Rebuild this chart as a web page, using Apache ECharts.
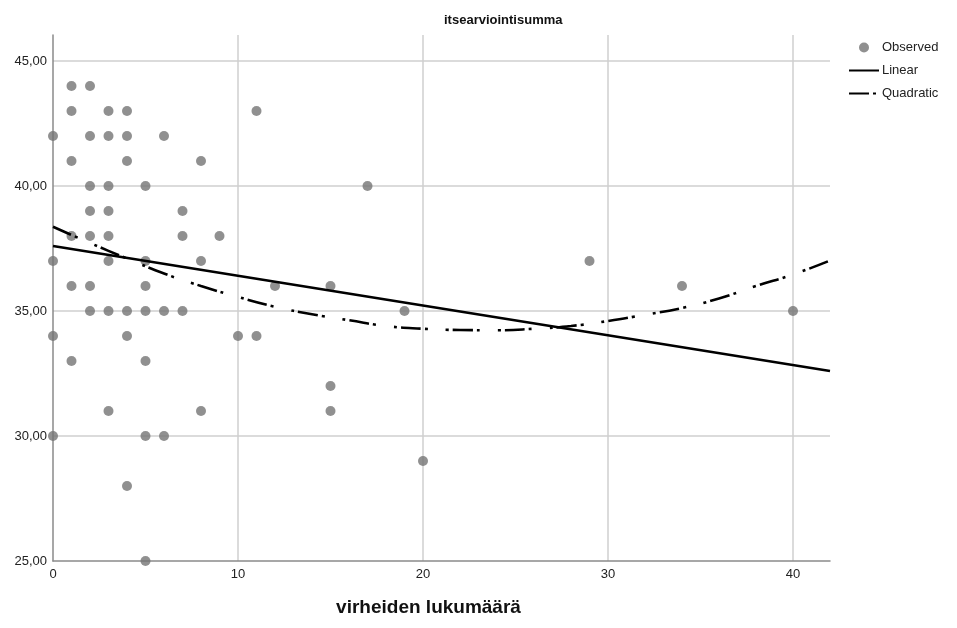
<!DOCTYPE html>
<html>
<head>
<meta charset="utf-8">
<script src="https://cdn.jsdelivr.net/npm/echarts@6/dist/echarts.min.js"></script>
<style>
  html, body { margin: 0; padding: 0; background: #fff; }
  #chart { width: 957px; height: 628px; }
</style>
</head>
<body>
<div id="chart"></div>
<script>
// havainnot: virheiden lukumäärä / itsearviointisumma
var obsErrors = [0,0,0,0, 1,1,1,1,1,1, 2,2,2,2,2,2,2, 3,3,3,3,3,3,3,3,
                 4,4,4,4,4,4, 5,5,5,5,5,5,5, 6,6,6, 7,7,7, 8,8,8, 9, 10, 11,11, 12,
                 15,15,15, 17, 19, 20, 29, 34, 40];
var obsScores = [42,37,34,30, 44,43,41,38,36,33, 44,42,40,39,38,36,35, 43,42,40,39,38,37,35,31,
                 43,42,41,35,34,28, 40,37,36,35,33,30,25, 42,35,30, 39,38,35, 41,37,31, 38, 34, 43,34, 36,
                 36,32,31, 40, 35, 29, 37, 36, 35];

// sovitteet luettu kuvasta
var linX = [0, 42];
var linY = [37.6, 32.6];
var quadX = [0, 2, 4, 6, 8, 10, 12, 14, 16, 18, 20, 22, 24, 26, 28, 30, 32, 34, 36, 38, 40, 42];
var quadY = [38.37, 37.72, 37.1, 36.5, 36.0, 35.56, 35.17, 34.87, 34.63, 34.4, 34.29, 34.24,
             34.23, 34.29, 34.4, 34.6, 34.85, 35.12, 35.5, 36.0, 36.46, 37.02];

var xTicks = [0, 10, 20, 30, 40];
var yTicks = [25, 30, 35, 40, 45];

function zip(a, b) {
  var out = [];
  for (var i = 0; i < a.length; i++) out.push([a[i], b[i]]);
  return out;
}

var font = "'Liberation Sans', Arial, sans-serif";
var myChart = echarts.init(document.getElementById('chart'));

var option = {
  backgroundColor: '#fff',
  animation: false,
  title: {
    text: 'itsearviointisumma',
    left: 439,
    top: 9,
    textStyle: { fontFamily: font, fontSize: 13, fontWeight: 'bold', color: '#111' }
  },
  legend: {
    orient: 'vertical',
    left: 843,
    top: 36,
    itemWidth: 30,
    itemHeight: 10,
    itemGap: 10,
    textStyle: { fontFamily: font, fontSize: 13, color: '#222', padding: [0, 0, 0, -2] },
    data: [
      { name: 'Observed', icon: 'circle' },
      { name: 'Linear', itemStyle: { opacity: 0 } },
      { name: 'Quadratic', itemStyle: { opacity: 0 } }
    ]
  },
  grid: { left: 53, right: 127, top: 35, bottom: 67 },
  xAxis: {
    type: 'value',
    min: 0,
    max: 42,
    interval: 10,
    name: 'virheiden lukumäärä',
    nameLocation: 'middle',
    nameGap: 37,
    nameTextStyle: { fontFamily: font, fontSize: 19, fontWeight: 'bold', color: '#111', padding: [0, 26, 0, 0] },
    axisLine: { show: true, lineStyle: { color: '#8a8a8a', width: 1.5 } },
    axisTick: { show: false },
    axisLabel: {
      fontFamily: font, fontSize: 13, color: '#222', margin: 7, showMaxLabel: false,
      formatter: function (v) { return xTicks.indexOf(v) >= 0 ? String(v) : ''; }
    },
    splitLine: { show: true, showMinLine: false, showMaxLine: false, lineStyle: { color: '#cfcfcf', width: 1.5 } }
  },
  yAxis: {
    type: 'value',
    min: 25,
    max: 46.04,
    interval: 5,
    axisLine: { show: true, lineStyle: { color: '#8a8a8a', width: 1.5 } },
    axisTick: { show: false },
    axisLabel: {
      fontFamily: font, fontSize: 13, color: '#222', margin: 6, showMaxLabel: false,
      formatter: function (v) { return yTicks.indexOf(v) >= 0 ? v.toFixed(2).replace('.', ',') : ''; }
    },
    splitLine: { show: true, showMinLine: false, showMaxLine: false, lineStyle: { color: '#cfcfcf', width: 1.5 } }
  },
  series: [
    {
      name: 'Observed',
      type: 'scatter',
      symbol: 'circle',
      symbolSize: 10,
      itemStyle: { color: '#747474' },
      data: zip(obsErrors, obsScores),
      z: 3
    },
    {
      name: 'Linear',
      type: 'line',
      symbol: 'none',
      lineStyle: { color: '#000', width: 2.6 },
      itemStyle: { color: '#000' },
      data: zip(linX, linY),
      z: 4
    },
    {
      name: 'Quadratic',
      type: 'line',
      symbol: 'none',
      smooth: true,
      lineStyle: { color: '#000', width: 2.6, type: [3, 4, 20, 4, 3, 18], dashOffset: 7, cap: 'butt' },
      itemStyle: { color: '#000' },
      data: zip(quadX, quadY),
      z: 4
    }
  ]
};

myChart.setOption(option);
</script>
</body>
</html>
